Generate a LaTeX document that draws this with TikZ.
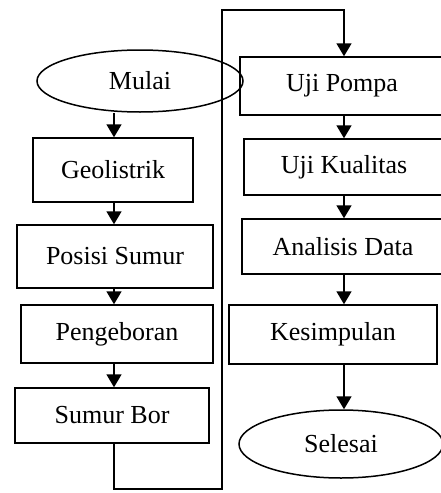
\documentclass[tikz,border=0pt]{standalone}
\usepackage{fontspec}
\setmainfont{Liberation Serif}
\usetikzlibrary{shapes.geometric,arrows.meta}

\tikzset{
  box/.style={draw, line width=1.5pt, rectangle, inner sep=0pt,
              font=\fontsize{26}{30}\selectfont},
  oval/.style={draw, line width=1.5pt, ellipse, inner sep=0pt,
              font=\fontsize{26}{30}\selectfont},
  arr/.style={line width=1.8pt, -{Triangle[length=13pt,width=15pt]}},
}

\begin{document}
\begin{tikzpicture}[x=1pt,y=-1pt]
   \useasboundingbox (0,0) rectangle (441,493);
   % left column
   \node[oval, minimum width=206pt, minimum height=62pt] (mulai) at (140,81) {Mulai};
   \node[box, minimum width=160pt, minimum height=64pt] (geo) at (113,170) {Geolistrik};
   \node[box, minimum width=196pt, minimum height=63pt] (posisi) at (115,256.5) {Posisi Sumur};
   \node[box, minimum width=192pt, minimum height=58pt] (bor) at (117,334) {Pengeboran};
   \node[box, minimum width=194pt, minimum height=55pt] (sumur) at (112,415.5) {Sumur Bor};
   % right column
   \node[box, minimum width=204pt, minimum height=58pt] (pompa) at (342,86) {Uji Pompa};
   \node[box, minimum width=200pt, minimum height=56pt] (kualitas) at (344,167) {Uji Kualitas};
   \node[box, minimum width=202pt, minimum height=55pt] (analisis) at (343,246.5) {Analisis Data};
   \node[box, minimum width=208pt, minimum height=59pt] (simpul) at (333,334.5) {Kesimpulan};
   \node[oval, minimum width=204pt, minimum height=68pt] (selesai) at (341,444) {Selesai};
   % columns of the arrows
   \coordinate (lc) at (114,0);
   \coordinate (rc) at (344,0);
   \draw[arr] (mulai.south -| lc) -- (geo.north -| lc);
   \draw[arr] (geo.south -| lc) -- (posisi.north -| lc);
   \draw[arr] (posisi.south -| lc) -- (bor.north -| lc);
   \draw[arr] (bor.south -| lc) -- (sumur.north -| lc);
   \draw[arr] (sumur.south -| lc) |- (222,489) -- (222,10) -| (pompa.north -| rc);
   \draw[arr] (pompa.south -| rc) -- (kualitas.north -| rc);
   \draw[arr] (kualitas.south -| rc) -- (analisis.north -| rc);
   \draw[arr] (analisis.south -| rc) -- (simpul.north -| rc);
   \draw[arr] (simpul.south -| rc) -- (selesai.north -| rc);
\end{tikzpicture}
\end{document}
